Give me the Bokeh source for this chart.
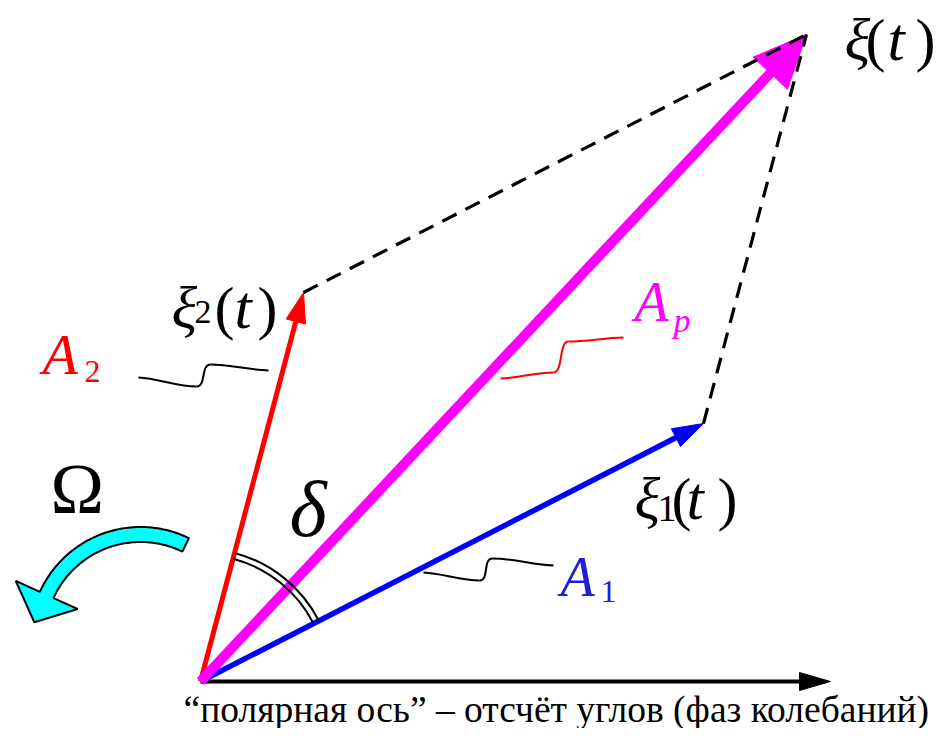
import numpy as np
from bokeh.plotting import figure
from bokeh.models import Range1d, ColumnDataSource
from bokeh.core.properties import value
from bokeh.embed import file_html
from bokeh.resources import INLINE

# ---------------- data (vector diagram, units = pixels, y up) ----------------
vec_names = ["A1", "A2", "Ap"]
A1 = np.array([503.0, 258.0])      # first oscillation amplitude vector
A2 = np.array([103.0, 389.0])      # second oscillation amplitude vector
Ap = A1 + A2                        # resulting vector
axis_length = 630.0                 # polar axis
vec_colors = ["#0000ff", "#ff0000", "#ff00ff"]
vec_widths = [5.5, 5, 10]
head_len = [31, 30, 53]
head_wid = [20, 20, 47]

FONT = "Liberation Serif"
PX0, PY0 = 200, 681   # picture position of the origin
TEXT_SHIFT = 0.36     # empirical baseline correction (fraction of font size)


def pg(px, py):
    return (px - PX0, PY0 - py)


# label pieces: text, x, baseline, size, style, colour
label_pieces = [
    ("ξ", 844, 61, 60, "italic", "black"),
    ("(", 865, 61, 60, "normal", "black"),
    ("t", 887, 61, 62, "italic", "black"),
    (")", 915, 61, 60, "normal", "black"),
    ("ξ", 171, 329, 60, "italic", "black"),
    ("2", 194, 324, 34, "normal", "black"),
    ("(", 214, 329, 60, "normal", "black"),
    ("t", 234, 329, 62, "italic", "black"),
    (")", 257, 329, 60, "normal", "black"),
    ("ξ", 634, 520, 60, "italic", "black"),
    ("1", 657, 522, 38, "normal", "black"),
    ("(", 671, 520, 60, "normal", "black"),
    ("t", 686, 520, 62, "italic", "black"),
    (")", 717, 520, 60, "normal", "black"),
    ("A", 42, 375, 58, "italic", "#ff0000"),
    ("2", 84, 383, 32, "normal", "#ff0000"),
    ("A", 634, 322, 56, "italic", "#ff00ff"),
    ("p", 673, 332, 34, "italic", "#ff00ff"),
    ("A", 560, 597, 56, "italic", "#2020d0"),
    ("1", 600, 603, 32, "normal", "#2020d0"),
    ("δ", 289, 537, 80, "italic", "black"),
    ("Ω", 50, 514, 72, "normal", "black"),
    ("“полярная ось” – отсчёт углов (фаз колебаний)", 183, 722, 37.5, "normal", "black"),
]

# leader squiggles: left end, step start, step end, right end
squiggles = [
    ((138, 377), (196, 386), (210, 364), (268, 370), "black"),
    ((500, 378), (553, 372), (568, 341), (623, 337), "#ff0000"),
    ((423, 572), (479, 580), (492, 558), (553, 565), "black"),
]

# ---------------- figure ----------------
W, H = 934, 728
p = figure(width=W, height=H, output_backend="svg", toolbar_location=None,
           x_range=Range1d(-PX0, W - PX0), y_range=Range1d(PY0 - H, PY0),
           x_axis_type=None, y_axis_type=None, min_border=0)
p.outline_line_color = None
p.background_fill_color = "white"
p.border_fill_color = "white"


def head(tip, d, L, Wd):
    d = d / np.linalg.norm(d)
    n = np.array([-d[1], d[0]])
    b = tip - d * L
    pts = [tip, b + n * Wd / 2, b - n * Wd / 2]
    return [q[0] for q in pts], [q[1] for q in pts]


# polar axis
ax_tip = np.array([axis_length, 0.0])
p.line([0, axis_length - 25], [0, 0], line_color="black", line_width=4)
hx, hy = head(ax_tip, np.array([1.0, 0.0]), 31, 18)
p.patch(hx, hy, fill_color="black", line_color="black", line_width=1)

# Omega rotation arrow (cyan)
oc = np.array(pg(140, 637))
r0, hw = 103.0, 7.5
a0, a1 = np.radians(64.0), np.radians(155.6)
t = np.linspace(a0, a1, 60)
outer = [(oc[0] + (r0 + hw) * np.cos(a), oc[1] + (r0 + hw) * np.sin(a)) for a in t]
inner = [(oc[0] + (r0 - hw) * np.cos(a), oc[1] + (r0 - hw) * np.sin(a)) for a in t[::-1]]
tang = np.array([-np.sin(a1), np.cos(a1)])
radial = np.array([np.cos(a1), np.sin(a1)])
bc = oc + r0 * radial
tip_pt = bc + tang * 30
head_pts = [tuple(bc + radial * 34), tuple(tip_pt), tuple(bc - radial * 34)]
poly = outer + head_pts + inner
p.patch([q[0] for q in poly], [q[1] for q in poly], fill_color="#00ffff",
        line_color="black", line_width=2)

# vectors
for vec, col, lw, L, Wd in zip([A1, A2, Ap], vec_colors, vec_widths, head_len, head_wid):
    d = vec / np.linalg.norm(vec)
    end = vec - d * L * 0.85
    p.line([0, end[0]], [0, end[1]], line_color=col, line_width=lw)
    hx, hy = head(vec, d, L, Wd)
    p.patch(hx, hy, fill_color=col, line_color=col, line_width=1)

# dashed parallelogram sides
p.line([A2[0], Ap[0]], [A2[1], Ap[1]], line_color="black", line_width=3.2, line_dash="16 10")
p.line([A1[0], Ap[0]], [A1[1], Ap[1]], line_color="black", line_width=3.2, line_dash="16 10")

# delta double arc
ang1 = np.arctan2(A1[1], A1[0])
ang2 = np.arctan2(A2[1], A2[0])
p.arc(x=[0, 0], y=[0, 0], radius=[127, 133], start_angle=ang1, end_angle=ang2,
      line_color="black", line_width=2)

# squiggles
for L_, M1, M2, R, col in squiggles:
    L_, M1, M2, R = [np.array(pg(*q), dtype=float) for q in (L_, M1, M2, R)]
    k1 = (M1[0] - L_[0]) / 3
    k3 = (R[0] - M2[0]) / 3
    segs = [
        (L_, M1, L_ + np.array([k1, (M1[1] - L_[1]) * 0.1]), M1 - np.array([k1, 0])),
        (M1, M2, M1 + np.array([10, 0]), M2 - np.array([10, 0])),
        (M2, R, M2 + np.array([k3, 0]), R - np.array([k3, (R[1] - M2[1]) * 0.1])),
    ]
    p.bezier(x0=[s[0][0] for s in segs], y0=[s[0][1] for s in segs],
             x1=[s[1][0] for s in segs], y1=[s[1][1] for s in segs],
             cx0=[s[2][0] for s in segs], cy0=[s[2][1] for s in segs],
             cx1=[s[3][0] for s in segs], cy1=[s[3][1] for s in segs],
             line_color=col, line_width=2)

# labels
src = ColumnDataSource(dict(
    x=[pg(a[1], a[2])[0] for a in label_pieces],
    y=[pg(a[1], a[2] - TEXT_SHIFT * a[3])[1] for a in label_pieces],
    text=[a[0] for a in label_pieces],
    size=[f"{a[3]}px" for a in label_pieces],
    style=[a[4] for a in label_pieces],
    color=[a[5] for a in label_pieces],
))
p.text(x="x", y="y", text="text", source=src, text_font=value(FONT),
       text_font_size="size", text_font_style="style", text_color="color",
       text_align="left", text_baseline="alphabetic")

open("out.html", "w").write(file_html(p, INLINE))
